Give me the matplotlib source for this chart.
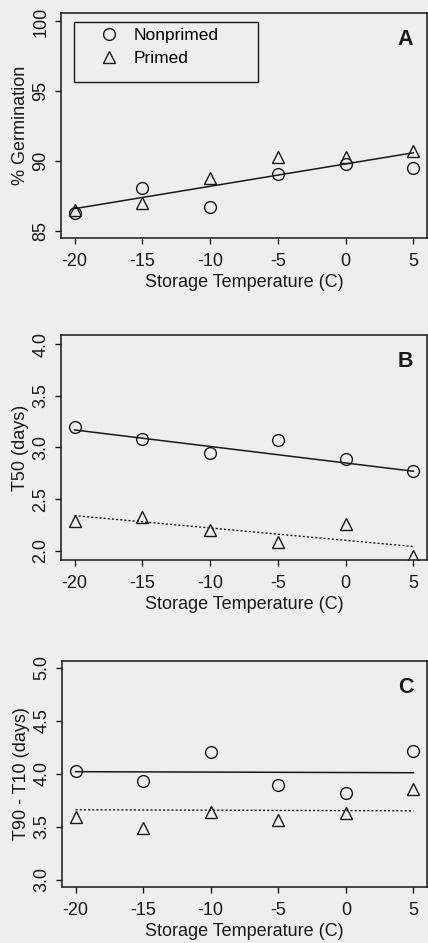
import matplotlib
matplotlib.use("Agg")
import matplotlib.pyplot as plt
from matplotlib.lines import Line2D
from matplotlib.patches import Rectangle

plt.rcParams['font.family'] = ['Liberation Sans', 'DejaVu Sans']

temps = [-20, -15, -10, -5, 0, 5]

germ_nonprimed = [86.3, 88.1, 86.7, 89.1, 89.8, 89.5]
germ_primed = [86.5, 87.0, 88.8, 90.3, 90.3, 90.7]
germ_fit = [86.6, 90.6]

t50_nonprimed = [3.20, 3.08, 2.95, 3.07, 2.89, 2.77]
t50_primed = [2.29, 2.33, 2.20, 2.08, 2.26, 1.95]
t50_fit_nonprimed = [3.17, 2.77]
t50_fit_primed = [2.34, 2.04]

spread_nonprimed = [4.03, 3.93, 4.21, 3.89, 3.82, 4.22]
spread_primed = [3.59, 3.49, 3.64, 3.56, 3.63, 3.86]
spread_fit_nonprimed = [4.02, 4.01]
spread_fit_primed = [3.66, 3.65]

xticks = [-20, -15, -10, -5, 0, 5]
bg = '#eeeeee'
ink = '#1a1a1a'
msize = 8.5
fs = 13

fig = plt.figure(figsize=(4.28, 9.43), dpi=100, facecolor=bg)

W = 428; H = 943
def rect(left, top, right, bottom):
    return [left / W, 1 - bottom / H, (right - left) / W, (bottom - top) / H]

panels = [
    dict(r=rect(61, 13, 427, 238), ylim=(84.5, 100.6), yticks=[85, 90, 95, 100],
         ylabel='% Germination', letter='A',
         np=germ_nonprimed, pr=germ_primed),
    dict(r=rect(61, 335, 427, 560), ylim=(1.91, 4.09), yticks=[2.0, 2.5, 3.0, 3.5, 4.0],
         ylabel='T50 (days)', letter='B',
         np=t50_nonprimed, pr=t50_primed),
    dict(r=rect(62, 661, 427, 887), ylim=(2.93, 5.066), yticks=[3.0, 3.5, 4.0, 4.5, 5.0],
         ylabel='T90 - T10 (days)', letter='C',
         np=spread_nonprimed, pr=spread_primed),
]

axes = []
for p in panels:
    ax = fig.add_axes(p['r'])
    ax.set_facecolor(bg)
    ax.set_xlim(-21.0, 6.0)
    ax.set_ylim(*p['ylim'])
    ax.set_xticks(xticks)
    ax.set_xticklabels([str(t) for t in xticks])
    ax.set_yticks(p['yticks'])
    if p['letter'] == 'A':
        ax.set_yticklabels([str(int(v)) for v in p['yticks']])
    else:
        ax.set_yticklabels(['%.1f' % v for v in p['yticks']])
    for lab in ax.get_yticklabels():
        lab.set_rotation(90)
        lab.set_va('center')
    ax.tick_params(direction='out', length=4.5, width=1.0, colors=ink, labelsize=fs)
    ax.tick_params(axis='x', pad=6.5)
    ax.tick_params(axis='y', pad=4)
    for s in ax.spines.values():
        s.set_color(ink)
        s.set_linewidth(1.1)
    ax.set_xlabel('Storage Temperature (C)', fontsize=fs, color=ink, labelpad=3)
    ax.set_ylabel(p['ylabel'], fontsize=fs, color=ink, labelpad=2.5)
    ax.plot(temps, p['np'], linestyle='none', marker='o', markersize=msize,
            markerfacecolor='none', markeredgecolor=ink, markeredgewidth=1.0)
    ax.plot(temps, p['pr'], linestyle='none', marker='^', markersize=msize,
            markerfacecolor='none', markeredgecolor=ink, markeredgewidth=1.0)
    ax.text(0.962, 0.93, p['letter'], transform=ax.transAxes, ha='right', va='top',
            fontsize=15.5, fontweight='bold', color=ink)
    axes.append(ax)

axA, axB, axC = axes
ends = [temps[0], temps[-1]]
axA.plot(ends, germ_fit, color=ink, linewidth=1.1)
axB.plot(ends, t50_fit_nonprimed, color=ink, linewidth=1.1)
axB.plot([temps[0], 5.05], t50_fit_primed, color=ink, linewidth=1.0, linestyle=(0, (1.5, 1.5)))
axC.plot(ends, spread_fit_nonprimed, color=ink, linewidth=1.1)
axC.plot(ends, spread_fit_primed, color=ink, linewidth=1.0, linestyle=(0, (1.5, 1.5)))

handles = [
    Line2D([], [], linestyle='none', marker='o', markersize=msize, markerfacecolor='none',
           markeredgecolor=ink, markeredgewidth=1.0),
    Line2D([], [], linestyle='none', marker='^', markersize=msize, markerfacecolor='none',
           markeredgecolor=ink, markeredgewidth=1.0),
]
leg = axA.legend(handles, ['Nonprimed', 'Primed'], loc='upper left',
                 bbox_to_anchor=(0.0355, 0.96), fontsize=12.5,
                 frameon=False, borderpad=0.35, handlelength=3.3, handletextpad=-0.2,
                 labelspacing=0.45, borderaxespad=0)
axA.add_patch(Rectangle((0.0355, 0.693), 0.503, 0.267, transform=axA.transAxes,
                        facecolor='none', edgecolor=ink, linewidth=1.0, zorder=4))

fig.savefig('out.png', dpi=100, facecolor=bg)
